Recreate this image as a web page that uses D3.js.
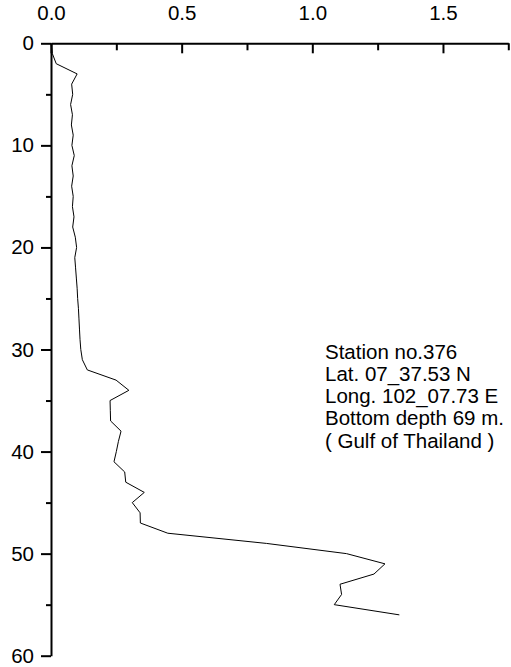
<!DOCTYPE html>
<html>
<head>
<meta charset="utf-8">
<script src="https://cdn.jsdelivr.net/npm/d3@7"></script>
<style>
html, body { margin: 0; padding: 0; background: #fff; }
svg { display: block; }
text { font-family: "Liberation Sans", Arial, sans-serif; fill: #000; }
</style>
</head>
<body>
<svg id="chart" width="511" height="667"></svg>
<script>
// Depth (m) and measured value
const depths = [0,1,2,3,4,5,6,7,8,9,10,11,12,13,14,15,16,17,18,19,20,21,22,23,24,25,26,27,28,29,30,31,32,33,34,35,36,37,38,39,40,41,42,43,44,45,46,47,48,49,50,51,52,53,54,55,56];
const values = [0.0,0.005,0.02,0.10,0.079,0.083,0.075,0.082,0.078,0.085,0.080,0.089,0.080,0.085,0.079,0.085,0.082,0.088,0.083,0.093,0.098,0.091,0.094,0.097,0.100,0.102,0.105,0.107,0.109,0.111,0.114,0.120,0.139,0.249,0.298,0.226,0.227,0.228,0.268,0.258,0.250,0.241,0.282,0.286,0.357,0.311,0.341,0.342,0.447,0.825,1.131,1.278,1.236,1.106,1.112,1.084,1.333];
const xMajorTicks = [0, 0.5, 1.0, 1.5];
const xMinorTicks = [0.25, 0.75, 1.25, 1.75];
const yMajorTicks = [0, 10, 20, 30, 40, 50, 60];
const yMinorTicks = [5, 15, 25, 35, 45, 55];
const noteLines = ["Station no.376", "Lat. 07_37.53 N", "Long. 102_07.73 E", "Bottom depth 69 m.", "( Gulf of Thailand )"];

const svg = d3.select("#chart");
const x = d3.scaleLinear().domain([0, 1.75]).range([51, 508.3]);
const y = d3.scaleLinear().domain([0, 60]).range([43.3, 655.7]);

// X axis (top), ticks pointing inward
const gx = svg.append("g").attr("transform", `translate(0,${y(0)})`);
gx.call(d3.axisTop(x).tickValues(xMajorTicks).tickSize(-10).tickSizeOuter(0).tickPadding(23)
  .tickFormat(d3.format(".1f")));
const gx2 = svg.append("g").attr("transform", `translate(0,${y(0)})`);
gx2.call(d3.axisTop(x).tickValues(xMinorTicks).tickSize(-7).tickSizeOuter(0).tickFormat(""));
gx2.select(".domain").remove();

// Y axis (left), ticks outward
const gy = svg.append("g").attr("transform", `translate(${x(0)},0)`);
gy.call(d3.axisLeft(y).tickValues(yMajorTicks).tickSize(10).tickSizeOuter(0).tickPadding(7)
  .tickFormat(d3.format("d")));
const gy2 = svg.append("g").attr("transform", `translate(${x(0)},0)`);
gy2.call(d3.axisLeft(y).tickValues(yMinorTicks).tickSize(5).tickSizeOuter(0).tickFormat(""));
gy2.select(".domain").remove();

svg.selectAll(".domain, .tick line").attr("stroke", "#000").attr("stroke-width", 2);
svg.selectAll(".tick text").attr("font-size", 20.5).attr("font-family", "'Liberation Sans', Arial, sans-serif").attr("fill", "#000");
gx.selectAll(".tick text").attr("dy", 0);

// Profile line
const data = depths.map((d, i) => ({d: d, v: values[i]}));
svg.append("path")
  .datum(data)
  .attr("fill", "none")
  .attr("stroke", "#000")
  .attr("stroke-width", 1)
  .attr("d", d3.line().x(p => x(p.v)).y(p => y(p.d)));

// Annotation
svg.append("g").selectAll("text").data(noteLines).join("text")
  .attr("x", 325)
  .attr("y", (d, i) => 358.5 + i * 22.3)
  .attr("font-size", 20.5)
  .text(d => d);
</script>
</body>
</html>
